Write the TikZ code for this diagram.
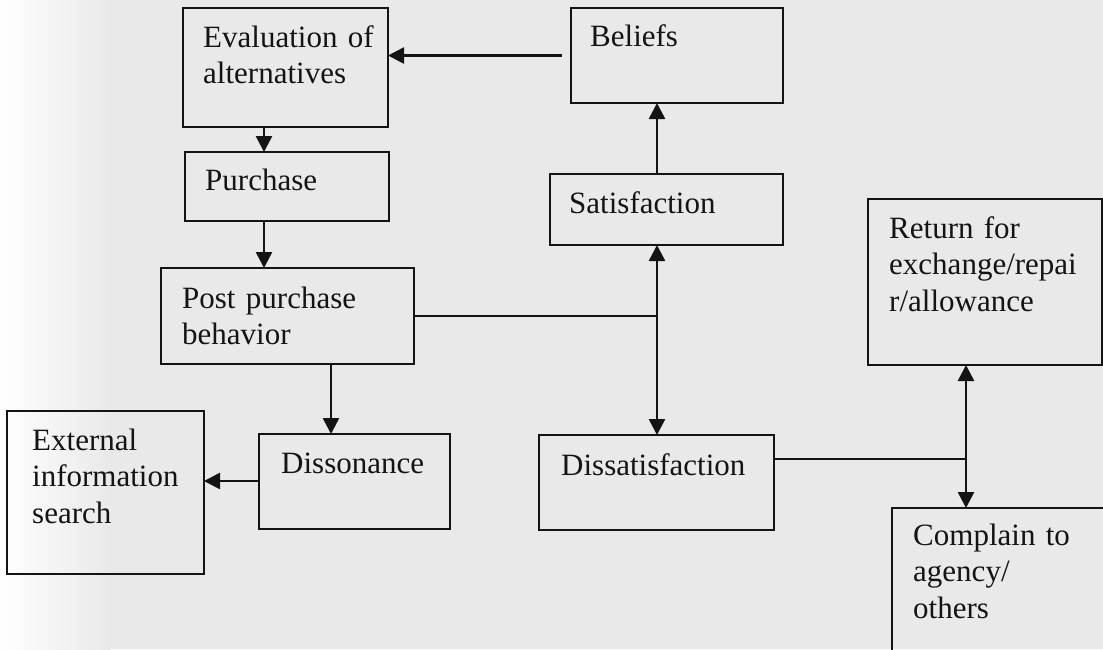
\documentclass[tikz,border=0pt]{standalone}
\usepackage{fontspec}
\setmainfont{Liberation Serif}
\usetikzlibrary{arrows.meta}
\definecolor{bgc}{RGB}{233,233,233}
\definecolor{ink}{RGB}{20,20,20}
\newcommand{\bx}[5]{\node[boxst, minimum width={#4-#2}, minimum height={#5-#3}] (#1) at ({(#2+#4)/2},{(#3+#5)/2}) {};}
\tikzset{
  boxst/.style={draw=ink, line width=2.6pt, rectangle, inner sep=0pt, outer sep=0pt},
  txt/.style={anchor=base west, inner sep=0pt, text width=260pt, align=left, text=ink,
              font=\fontsize{31}{36.5}\selectfont},
  conn/.style={draw=ink, line width=2.6pt},
  arr/.style={conn, -{Triangle[length=16pt,width=16pt]}},
  darr/.style={conn, {Triangle[length=16pt,width=16pt]}-{Triangle[length=16pt,width=16pt]}}
}
\begin{document}
\begin{tikzpicture}[x=1pt,y=-1pt]
\useasboundingbox (0,0) rectangle (1103,649);
\clip (0,0) rectangle (1103,649);
\fill[bgc] (0,0) rectangle (1103,649);
\shade[left color=white, right color=bgc] (0,0) rectangle (110,649);

% boxes
\bx{eval}{183}{8}{388}{127}
\bx{bel}{571}{8}{783}{103}
\bx{pur}{185}{152}{389}{221}
\bx{sat}{550}{174}{783}{245}
\bx{post}{161}{268}{414}{364}
\bx{ext}{7}{411}{204}{574}
\bx{diss}{259}{434}{450}{529}
\bx{dsat}{539}{435}{774}{530}
\bx{ret}{868}{199}{1102}{365}
\bx{comp}{892}{508}{1108}{654}

% texts
\node[txt] (evalt) at ([xshift=20pt,yshift=-39pt]eval.north west) {Evaluation of\\alternatives};
\node[txt] (belt) at ([xshift=19pt,yshift=-38pt]bel.north west) {Beliefs};
\node[txt] (purt) at ([xshift=20pt,yshift=-38pt]pur.north west) {Purchase};
\node[txt] (satt) at ([xshift=19pt,yshift=-39pt]sat.north west) {Satisfaction};
\node[txt] (postt) at ([xshift=21pt,yshift=-40pt]post.north west) {Post purchase\\behavior};
\node[txt] (extt) at ([xshift=25pt,yshift=-39pt]ext.north west) {External\\information\\search};
\node[txt] (disst) at ([xshift=22pt,yshift=-39pt]diss.north west) {Dissonance};
\node[txt] (dsatt) at ([xshift=22pt,yshift=-40pt]dsat.north west) {Dissatisfaction};
\node[txt] (rett) at ([xshift=21pt,yshift=-39pt]ret.north west) {Return for\\exchange/repai\\r/allowance};
\node[txt] (compt) at ([xshift=21pt,yshift=-37pt]comp.north west) {Complain to\\agency/\\others};

% helper coordinates
\coordinate (xa) at (264,0);
\coordinate (xb) at (331,0);
\coordinate (xc) at (657,0);
\coordinate (xd) at (966,0);
\coordinate (r316) at (0,316);
\coordinate (r459) at (0,459);
\coordinate (r481) at (0,481);

% connectors
\draw[arr] ([xshift=-9pt]bel.west) -- (eval.east |- bel.west);
\draw[arr] (eval.south -| xa) -- (pur.north -| xa);
\draw[arr] (pur.south -| xa) -- (post.north -| xa);
\draw[arr] (post.south -| xb) -- (diss.north -| xb);
\draw[arr] (diss.west |- r481) -- (ext.east |- r481);
\draw[arr] (sat.north -| xc) -- (bel.south -| xc);
\draw[conn] (post.east |- r316) -- (r316 -| xc);
\draw[darr] (sat.south -| xc) -- (dsat.north -| xc);
\draw[conn] (dsat.east |- r459) -- (r459 -| xd);
\draw[darr] (ret.south -| xd) -- (comp.north -| xd);
\end{tikzpicture}
\end{document}
